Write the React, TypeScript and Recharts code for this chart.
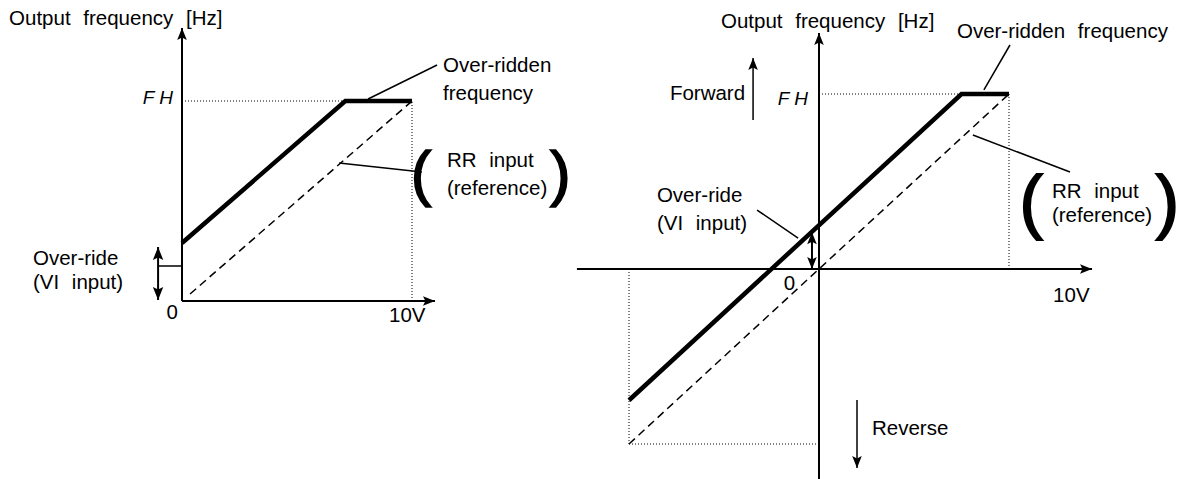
import { Line, LineChart, ReferenceDot, ReferenceLine, XAxis, YAxis } from "recharts";

// output frequency in % of FH, input voltage in V
const FH = 100;
const V_MAX = 10;

// left: 0..10V input
const leftOverridden = [
	{ x: 0, y: 29 },
	{ x: 7.1, y: FH },
	{ x: V_MAX, y: FH },
];
const leftReference = [
	{ x: 0.35, y: 3.5 },
	{ x: V_MAX, y: FH },
];

// right: -10..+10V input
const rightOverridden = [
	{ x: -10, y: -75 },
	{ x: 7.5, y: FH },
	{ x: V_MAX, y: FH },
];
const rightReference = [
	{ x: -10, y: -100 },
	{ x: V_MAX, y: FH },
];

const FONT = '"Liberation Sans", Arial, Helvetica, sans-serif';

type Heads = "none" | "end" | "both";

function arrowShape(heads: Heads, size = 12) {
	return (p: any) => {
		const { x1, y1, x2, y2 } = p;
		const stroke = p.stroke ?? "#000";
		const head = (tx: number, ty: number, fx: number, fy: number) => {
			const a = Math.atan2(ty - fy, tx - fx);
			const c = Math.cos(a);
			const s = Math.sin(a);
			const w = size * 0.4;
			const bx = tx - size * c;
			const by = ty - size * s;
			const nx = tx - size * 0.8 * c;
			const ny = ty - size * 0.8 * s;
			const pts = [
				[tx, ty],
				[bx - w * s, by + w * c],
				[nx, ny],
				[bx + w * s, by - w * c],
			];
			return <polygon points={pts.map((q) => q.join(",")).join(" ")} fill={stroke} stroke="none" />;
		};
		return (
			<g>
				<line
					x1={x1}
					y1={y1}
					x2={x2}
					y2={y2}
					stroke={stroke}
					strokeWidth={p.strokeWidth}
					strokeDasharray={p.strokeDasharray}
				/>
				{heads !== "none" && head(x2, y2, x1, y1)}
				{heads === "both" && head(x1, y1, x2, y2)}
			</g>
		);
	};
}

function seg(
	key: string,
	a: [number, number],
	b: [number, number],
	heads: Heads = "none",
	width = 1.5,
	dash?: string,
	size = 12,
) {
	return (
		<ReferenceLine
			key={key}
			segment={[
				{ x: a[0], y: a[1] },
				{ x: b[0], y: b[1] },
			]}
			ifOverflow="visible"
			stroke="#000"
			strokeWidth={width}
			strokeDasharray={dash}
			shape={arrowShape(heads, size)}
		/>
	);
}

function note(
	key: string,
	x: number,
	y: number,
	text: string,
	o: {
		anchor?: "start" | "middle" | "end";
		size?: number;
		italic?: boolean;
		thick?: number;
		ws?: number;
	} = {},
) {
	return (
		<ReferenceDot
			key={key}
			x={x}
			y={y}
			r={0}
			ifOverflow="visible"
			shape={(p: any) => (
				<text
					x={p.cx}
					y={p.cy}
					fill="#000"
					stroke={o.thick ? "#000" : "none"}
					strokeWidth={o.thick ?? 0}
					fontFamily={FONT}
					fontSize={o.size ?? 20.5}
					fontStyle={o.italic ? "italic" : "normal"}
					textAnchor={o.anchor ?? "start"}
					style={{ wordSpacing: o.ws ?? 7 }}
				>
					{text}
				</text>
			)}
		/>
	);
}

function domains(w: number, h: number, ox: number, oy: number, kx: number, ky: number) {
	return {
		x: [-ox / kx, (w - ox) / kx] as [number, number],
		y: [(oy - h) / ky, oy / ky] as [number, number],
	};
}

const DOT = "1 2";

function LeftPanel() {
	const d = domains(600, 479, 182, 301, 23, 2);
	return (
		<LineChart width={600} height={479} margin={{ top: 0, right: 0, bottom: 0, left: 0 }}>
			<XAxis type="number" dataKey="x" domain={d.x} allowDataOverflow hide />
			<YAxis type="number" domain={d.y} allowDataOverflow hide />
			{seg("gh", [0, FH], [V_MAX, FH], "none", 1, DOT)}
			{seg("gv", [V_MAX, 0], [V_MAX, FH], "none", 1, DOT)}
			{seg("ya", [0, 0], [0, 136.5], "end", 2)}
			{seg("xa", [0, 0], [11, 0], "end", 2)}
			<Line
				data={leftReference}
				dataKey="y"
				type="linear"
				stroke="#000"
				strokeWidth={1.5}
				strokeDasharray="8 5"
				dot={false}
				activeDot={false}
				isAnimationActive={false}
			/>
			<Line
				data={leftOverridden}
				dataKey="y"
				type="linear"
				stroke="#000"
				strokeWidth={4.5}
				dot={false}
				activeDot={false}
				isAnimationActive={false}
			/>
			{seg("ov", [-1.04, 0.5], [-1.04, 27], "both", 2, undefined, 13)}
			{seg("ot", [-1.04, 17.5], [0, 17.5], "none", 1.5)}
			{seg("l1", [11.09, 118], [8.09, 101], "none", 1.5)}
			{seg("l2", [6.83, 69], [10.43, 64.5], "none", 1.5)}
			{note("t", -7.52, 138, "Output frequency [Hz]")}
			{note("fh", -0.39, 98.5, "F H", { anchor: "end", italic: true, size: 19, ws: 0 })}
			{note("o1", 11.35, 114.5, "Over-ridden")}
			{note("o2", 11.35, 100.5, "frequency")}
			{note("r1", 11.52, 67, "RR input")}
			{note("r2", 11.52, 53, "(reference)")}
			{note("bl", 9.95, 53.5, "(", { size: 62, thick: 1.6 })}
			{note("br", 16.0, 53.5, ")", { size: 62, thick: 1.6 })}
			{note("v1", -6.48, 18, "Over-ride")}
			{note("v2", -6.48, 6, "(VI input)")}
			{note("z", -0.43, -9, "0", { anchor: "middle" })}
			{note("tv", 9, -10.5, "10V")}
		</LineChart>
	);
}

function RightPanel() {
	const d = domains(627, 479, 259, 269, 19, 1.75);
	return (
		<LineChart width={627} height={479} margin={{ top: 0, right: 0, bottom: 0, left: 0 }}>
			<XAxis type="number" dataKey="x" domain={d.x} allowDataOverflow hide />
			<YAxis type="number" domain={d.y} allowDataOverflow hide />
			{seg("gh", [0, FH], [V_MAX, FH], "none", 1, DOT)}
			{seg("gv", [V_MAX, 0], [V_MAX, FH], "none", 1, DOT)}
			{seg("gh2", [-V_MAX, -FH], [0, -FH], "none", 1, DOT)}
			{seg("gv2", [-V_MAX, 0], [-V_MAX, -FH], "none", 1, DOT)}
			{seg("ya", [0, -120], [0, 134.9], "end", 2)}
			{seg("xa", [-12.74, 0], [14.37, 0], "end", 2)}
			<Line
				data={rightReference}
				dataKey="y"
				type="linear"
				stroke="#000"
				strokeWidth={1.5}
				strokeDasharray="8 5"
				dot={false}
				activeDot={false}
				isAnimationActive={false}
			/>
			<Line
				data={rightOverridden}
				dataKey="y"
				type="linear"
				stroke="#000"
				strokeWidth={4.5}
				dot={false}
				activeDot={false}
				isAnimationActive={false}
			/>
			{seg("ov", [-0.37, 0], [-0.37, 21], "both", 2, undefined, 12)}
			{seg("fw", [-3.47, 85.1], [-3.47, 120.6], "end", 1.5)}
			{seg("rv", [2.0, -74.9], [2.0, -113.7], "end", 1.5)}
			{seg("l1", [10.05, 128], [8.68, 102.3], "none", 1.5)}
			{seg("l2", [8.1, 76.6], [13.21, 55.4], "none", 1.5)}
			{seg("l3", [-3.26, 33.7], [-1.1, 17.7], "none", 1.5)}
			{note("t", -5.16, 137.7, "Output frequency [Hz]")}
			{note("of", 7.26, 132, "Over-ridden frequency")}
			{note("fh", -0.58, 93.5, "F H", { anchor: "end", italic: true, size: 19, ws: 0 })}
			{note("fw", -3.89, 96.6, "Forward", { anchor: "end" })}
			{note("v1", -8.53, 38.3, "Over-ride")}
			{note("v2", -8.53, 22.3, "(VI input)")}
			{note("z", -1.55, -12, "0", { anchor: "middle" })}
			{note("tv", 12.32, -18.9, "10V")}
			{note("rv", 2.79, -94.9, "Reverse")}
			{note("r1", 12.26, 40.6, "RR input")}
			{note("r2", 12.26, 26.9, "(reference)")}
			{note("bl", 10.55, 25.1, "(", { size: 70, thick: 1.8 })}
			{note("br", 17.72, 25.1, ")", { size: 70, thick: 1.8 })}
		</LineChart>
	);
}

export default function App() {
	return (
		<div style={{ position: "absolute", left: 0, top: 0, width: 1187, height: 479, background: "#fff" }}>
			<div style={{ position: "absolute", left: 0, top: 0 }}>
				<LeftPanel />
			</div>
			<div style={{ position: "absolute", left: 560, top: 0 }}>
				<RightPanel />
			</div>
		</div>
	);
}
